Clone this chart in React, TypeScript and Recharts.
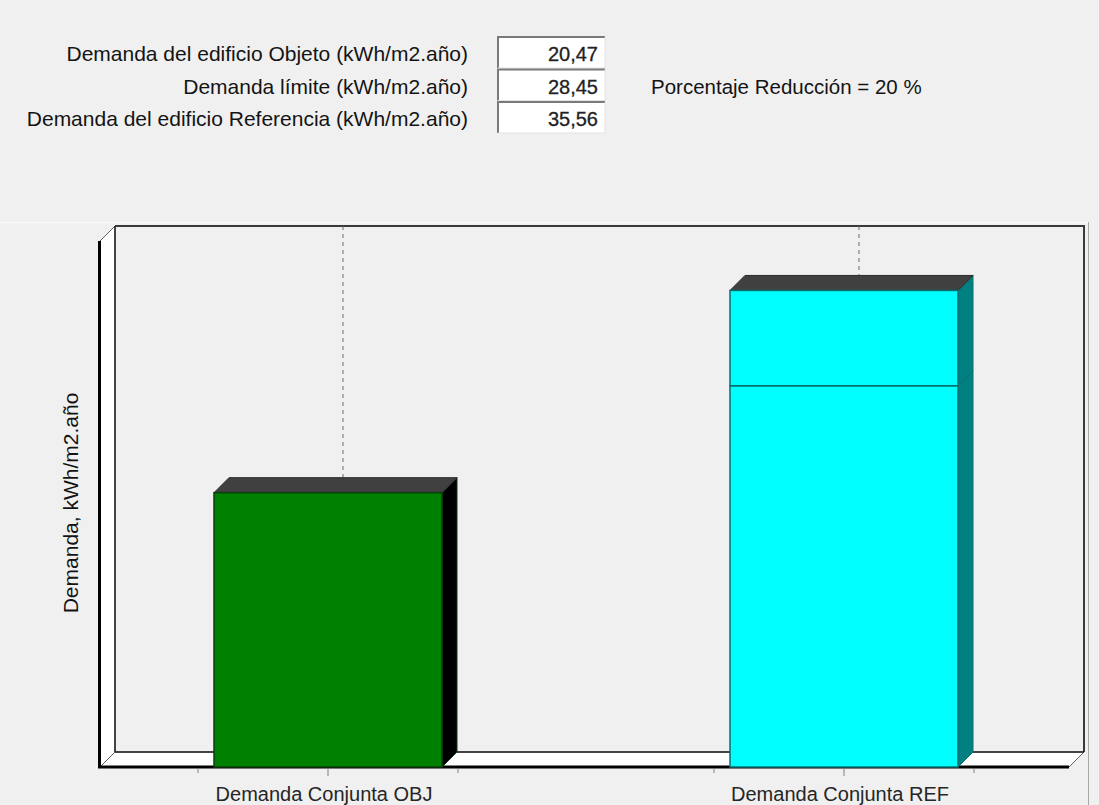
import React from "react";
import { Bar, BarChart, XAxis, YAxis } from "recharts";

// chart data
const categories = ["Demanda Conjunta OBJ", "Demanda Conjunta REF"];
const totalDemand = [20.47, 35.56];
const limitSegment = [20.47, 28.45];
const axisMax = 39.25;

// summary block at the top
const summaryLabels = [
  "Demanda del edificio Objeto (kWh/m2.año)",
  "Demanda límite (kWh/m2.año)",
  "Demanda del edificio Referencia (kWh/m2.año)",
];
const summaryValues = ["20,47", "28,45", "35,56"];
const reductionText = "Porcentaje Reducción = 20 %";
const yAxisTitle = "Demanda, kWh/m2.año";

const frontColors = ["#008000", "#00ffff"];
const sideColors = ["#000000", "#008080"];
const edgeColors = ["#0b3d0b", "#0a6f6f"];

const data = categories.map((name, i) => ({
  name,
  lower: limitSegment[i],
  upper: Number((totalDemand[i] - limitSegment[i]).toFixed(2)),
}));

const FONT = "'Liberation Sans', Arial, sans-serif";
const DEPTH = 15;

// frame layout (front plane)
const frame = { left: 100, right: 1069, top: 241, bottom: 767 };
const backTop = frame.top - DEPTH;

function make3DBar(segment: "lower" | "upper") {
  return (props: any) => {
    const { x, y, width, height, index, payload } = props;
    if (!height || height <= 0) return <g />;
    const isTop = segment === "upper" || payload.upper === 0;
    const front = frontColors[index];
    const side = sideColors[index];
    const edge = edgeColors[index];
    const r = x + width;
    const b = y + height;
    const cx = x + width / 2 + DEPTH;
    return (
      <g>
        {isTop && (
          <line
            x1={cx}
            x2={cx}
            y1={backTop}
            y2={y - DEPTH}
            stroke="#6a6a6a"
            strokeDasharray="4 4"
          />
        )}
        <polygon
          points={`${r},${y} ${r + DEPTH},${y - DEPTH} ${r + DEPTH},${b - DEPTH} ${r},${b}`}
          fill={side}
          stroke={edge}
          strokeWidth={1}
        />
        {isTop && (
          <polygon
            points={`${x},${y} ${x + DEPTH},${y - DEPTH} ${r + DEPTH},${y - DEPTH} ${r},${y}`}
            fill="#404040"
            stroke="#2a2a2a"
            strokeWidth={1}
          />
        )}
        <rect x={x} y={y} width={width} height={height} fill={front} stroke={edge} strokeWidth={1.5} />
      </g>
    );
  };
}

function CategoryTick(props: any) {
  const { x, payload } = props;
  const y0 = frame.bottom + 1;
  return (
    <g>
      <line x1={x - 130} x2={x - 130} y1={y0} y2={y0 + 5} stroke="#808080" />
      <line x1={x} x2={x} y1={y0} y2={y0 + 8} stroke="#808080" />
      <line x1={x + 130} x2={x + 130} y1={y0} y2={y0 + 5} stroke="#808080" />
      <text x={x - 4} y={801} textAnchor="middle" fontFamily={FONT} fontSize={20} fill="#262626">
        {payload.value}
      </text>
    </g>
  );
}

function Backdrop() {
  const { left, right, top, bottom } = frame;
  const D = DEPTH;
  return (
    <svg width={1099} height={805} style={{ position: "absolute", left: 0, top: 0 }}>
      <rect width={1099} height={805} fill="#f0f0f0" />
      {/* summary */}
      {summaryLabels.map((label, i) => {
        const boxTop = 37 + i * 32.5;
        return (
          <g key={label}>
            <text x={468} y={boxTop + 24} textAnchor="end" fontFamily={FONT} fontSize={21} fill="#141414">
              {label}
            </text>
            <rect x={498} y={boxTop} width={107} height={31} fill="#ffffff" />
            <path d={`M498,${boxTop + 31} V${boxTop} H605`} stroke="#7a7a7a" strokeWidth={2} fill="none" />
            <path d={`M605,${boxTop} V${boxTop + 31} H498`} stroke="#e2e2e2" strokeWidth={1} fill="none" />
            <text
              x={598}
              y={boxTop + 24}
              textAnchor="end"
              fontFamily={FONT}
              fontSize={20}
              fill="#222222"
              stroke="#222222"
              strokeWidth={0.3}
            >
              {summaryValues[i]}
            </text>
          </g>
        );
      })}
      <text x={651} y={37 + 32.5 + 24} fontFamily={FONT} fontSize={20.5} fill="#141414">
        {reductionText}
      </text>

      {/* panel border */}
      <line x1={0} x2={1088} y1={222.5} y2={222.5} stroke="#fafafa" />
      <line x1={1088.5} x2={1088.5} y1={222} y2={805} stroke="#a8a8a8" />

      {/* left wall */}
      <polygon
        points={`${left},${top} ${left + D},${top - D} ${left + D},${bottom - D} ${left},${bottom}`}
        fill="#ffffff"
        stroke="#606060"
        strokeWidth={1}
      />
      {/* floor */}
      <polygon
        points={`${left},${bottom} ${left + D},${bottom - D} ${right + D},${bottom - D} ${right},${bottom}`}
        fill="#ffffff"
        stroke="#606060"
        strokeWidth={1}
      />
      {/* back wall outline */}
      <path
        d={`M${left + D},${top - D} H${right + D} V${bottom - D}`}
        stroke="#3a3a3a"
        strokeWidth={2}
        fill="none"
      />
      <line x1={left + D} x2={left + D} y1={top - D} y2={bottom - D} stroke="#202020" strokeWidth={1.5} />
      <line x1={left + D} x2={right + D} y1={bottom - D} y2={bottom - D} stroke="#202020" strokeWidth={1.5} />
      {/* thick front edges */}
      <line x1={left - 0.5} x2={left - 0.5} y1={top} y2={bottom + 1} stroke="#000000" strokeWidth={3} />
      <line x1={left - 2} x2={right} y1={bottom} y2={bottom} stroke="#000000" strokeWidth={3} />

      <text
        x={70}
        y={503}
        transform="rotate(-90 70 503)"
        textAnchor="middle"
        dominantBaseline="central"
        fontFamily={FONT}
        fontSize={21}
        fill="#141414"
      >
        {yAxisTitle}
      </text>
    </svg>
  );
}

export default function App() {
  return (
    <div style={{ position: "relative", width: 1099, height: 805, overflow: "hidden", background: "#f0f0f0" }}>
      <style>{"body{margin:0}"}</style>
      <Backdrop />
      <div style={{ position: "absolute", left: 0, top: 0 }}>
        <BarChart
          width={1110}
          height={805}
          data={data}
          margin={{ top: frame.top, right: 8, bottom: 0, left: 70 }}
        >
          <XAxis
            dataKey="name"
            height={805 - frame.bottom}
            axisLine={false}
            tickLine={false}
            interval={0}
            tick={<CategoryTick />}
          />
          <YAxis hide domain={[0, axisMax]} />
          <Bar dataKey="lower" stackId="d" barSize={228} isAnimationActive={false} shape={make3DBar("lower")} />
          <Bar dataKey="upper" stackId="d" barSize={228} isAnimationActive={false} shape={make3DBar("upper")} />
        </BarChart>
      </div>
    </div>
  );
}
